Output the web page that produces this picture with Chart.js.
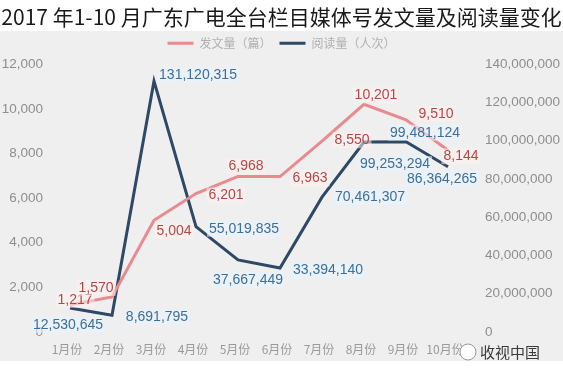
<!DOCTYPE html>
<html>
<head>
<meta charset="utf-8">
<script src="https://cdn.jsdelivr.net/npm/chart.js@4.4.1/dist/chart.umd.min.js"></script>
<style>
  html, body { margin: 0; padding: 0; background: #fff; }
  #wrap { width: 563px; height: 377px; }
</style>
</head>
<body>
<div id="wrap"><canvas id="chart" width="563" height="377"></canvas></div>
<script>
const months = ['1月份', '2月份', '3月份', '4月份', '5月份', '6月份', '7月份', '8月份', '9月份', '10月份'];
const postCounts = [1217, 1570, 5004, 6201, 6968, 6963, 8550, 10201, 9510, 8144];
const readCounts = [12530645, 8691795, 131120315, 55019835, 37667449, 33394140, 70461307, 99253294, 99481124, 86364265];

// where each value label sits relative to its point (dx, dy)
const postLabelOffsets = [[5, -5], [-16, -9], [20, 11], [30, 2], [8, -10], [30, 2], [30, -1], [12, -9], [30, -6], [13, 6]];
const readLabelOffsets = [[-2, 17], [45, 2], [44, -6], [48, 2], [10, 20], [48, 2], [48, 0], [31, 22], [19, -9], [-6, 12]];

const latin = '"Liberation Sans", Arial, sans-serif';
const cjk = '"Noto Sans CJK SC", "Liberation Sans", sans-serif';
const fmt = v => Number(v).toLocaleString('en-US');

const backdrop = {
  id: 'backdrop',
  beforeDraw(chart) {
    const { ctx, width, height } = chart;
    ctx.save();
    ctx.fillStyle = '#ffffff';
    ctx.fillRect(0, 0, width, height);
    ctx.fillStyle = '#efefef';
    ctx.fillRect(0, 31, width, 330);
    ctx.restore();
  }
};

const valueLabels = {
  id: 'valueLabels',
  afterDatasetsDraw(chart) {
    const { ctx } = chart;
    const cfg = [
      { offsets: postLabelOffsets, color: '#b04a48', bg: 'rgba(255,238,238,0.55)' },
      { offsets: readLabelOffsets, color: '#3d6f98', bg: 'rgba(230,242,252,0.6)' }
    ];
    ctx.save();
    ctx.font = '14px ' + latin;
    ctx.textAlign = 'center';
    ctx.textBaseline = 'middle';
    chart.data.datasets.forEach((ds, di) => {
      const meta = chart.getDatasetMeta(di);
      meta.data.forEach((pt, i) => {
        const [dx, dy] = cfg[di].offsets[i];
        const txt = fmt(ds.data[i]);
        const x = pt.x + dx, y = pt.y + dy;
        const w = ctx.measureText(txt).width;
        ctx.fillStyle = cfg[di].bg;
        ctx.fillRect(x - w / 2 - 2, y - 8, w + 4, 16);
        ctx.fillStyle = cfg[di].color;
        ctx.fillText(txt, x, y);
      });
    });
    ctx.restore();
  }
};

const watermark = {
  id: 'watermark',
  afterDraw(chart) {
    const { ctx } = chart;
    ctx.save();
    ctx.beginPath();
    ctx.arc(468, 352, 8, 0, Math.PI * 2);
    ctx.fillStyle = '#ffffff';
    ctx.fill();
    ctx.strokeStyle = '#999';
    ctx.lineWidth = 1;
    ctx.stroke();
    ctx.font = '15px ' + cjk;
    ctx.fillStyle = '#3a3a3a';
    ctx.textBaseline = 'middle';
    ctx.fillText('收视中国', 480, 352);
    ctx.restore();
  }
};

new Chart(document.getElementById('chart'), {
  type: 'line',
  data: {
    labels: months,
    datasets: [
      {
        label: '发文量（篇）',
        data: postCounts,
        borderColor: '#e88a8e',
        backgroundColor: '#e88a8e',
        borderWidth: 3,
        pointRadius: 0,
        tension: 0,
        yAxisID: 'y'
      },
      {
        label: '阅读量（人次）',
        data: readCounts,
        borderColor: '#2f4866',
        backgroundColor: '#2f4866',
        borderWidth: 3,
        pointRadius: 0,
        tension: 0,
        yAxisID: 'y1'
      }
    ]
  },
  options: {
    responsive: false,
    animation: false,
    layout: { padding: 0 },
    plugins: {
      title: {
        display: true,
        text: '2017 年1-10 月广东广电全台栏目媒体号发文量及阅读量变化',
        color: '#1a1a1a',
        font: { family: cjk, size: 21, weight: 'normal' },
        padding: { top: 4, bottom: 0 }
      },
      legend: {
        position: 'top',
        labels: {
          color: '#b0b0b0',
          font: { family: cjk, size: 12 },
          boxWidth: 26,
          boxHeight: 3,
          padding: 8,
          generateLabels(chart) {
            return Chart.defaults.plugins.legend.labels.generateLabels(chart)
              .map(item => Object.assign(item, { lineWidth: 0 }));
          }
        }
      },
      tooltip: { enabled: false }
    },
    scales: {
      x: {
        offset: false,
        grid: { display: false, drawTicks: false },
        border: { display: false },
        ticks: {
          color: '#9a9a9a',
          font: { family: cjk, size: 12 },
          padding: 10,
          labelOffset: -3,
          maxRotation: 0,
          autoSkip: false
        },
        afterFit(scale) { scale.height = 42; }
      },
      // empty strip between legend and plot
      spacer: {
        type: 'linear',
        position: 'top',
        display: true,
        grid: { display: false, drawTicks: false },
        border: { display: false },
        ticks: { display: false },
        afterFit(scale) { scale.height = 5; }
      },
      y: {
        position: 'left',
        min: 0,
        max: 12000,
        grid: { display: false, drawTicks: false },
        border: { display: false },
        ticks: {
          stepSize: 2000,
          color: '#8e8e8e',
          font: { family: latin, size: 13.5 },
          padding: 27,
          callback: v => fmt(v)
        },
        afterFit(scale) { scale.width = 70; }
      },
      y1: {
        position: 'right',
        min: 0,
        max: 140000000,
        grid: { display: false, drawTicks: false },
        border: { display: false },
        ticks: {
          stepSize: 20000000,
          color: '#8e8e8e',
          font: { family: latin, size: 13.5 },
          padding: 37,
          callback: v => fmt(v)
        },
        afterFit(scale) { scale.width = 115; }
      }
    }
  },
  plugins: [backdrop, valueLabels, watermark]
});
</script>
</body>
</html>
